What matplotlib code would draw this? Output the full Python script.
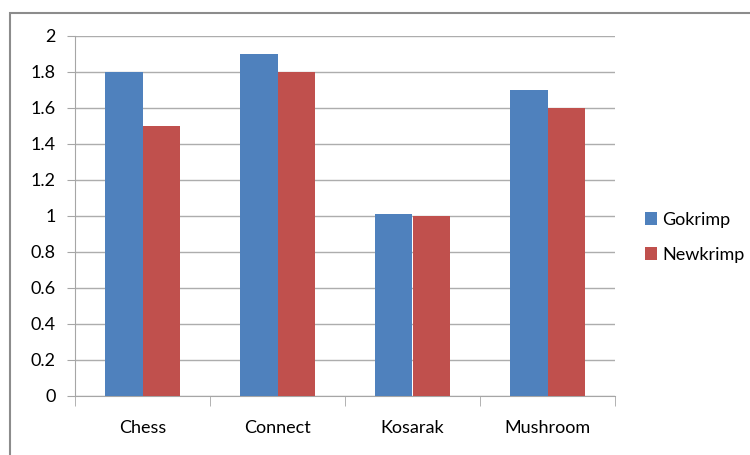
import matplotlib
matplotlib.use('Agg')
import matplotlib.pyplot as plt
import numpy as np
from matplotlib.patches import Rectangle

plt.rcParams['font.family'] = ['Lato', 'DejaVu Sans']

categories = ['Chess', 'Connect', 'Kosarak', 'Mushroom']
gokrimp = [1.8, 1.9, 1.01, 1.7]
newkrimp = [1.5, 1.8, 1.0, 1.6]
yticks = [0, 0.2, 0.4, 0.6, 0.8, 1, 1.2, 1.4, 1.6, 1.8, 2]

fig = plt.figure(figsize=(7.5, 4.55), dpi=100)
# outer chart border (right and bottom edges fall outside the image)
fig.patches.append(Rectangle((9.5 / 750, -0.05), 1.0, 1 - 13 / 455 + 0.05,
                             transform=fig.transFigure, fill=False,
                             edgecolor='#8C8C8C', linewidth=1.5))

ax = fig.add_axes([0.1, 0.1297, 0.72, 0.7912])
x = np.arange(len(categories))
w = 0.28
ax.bar(x - w / 2, gokrimp, w, color='#4F81BD', label='Gokrimp', zorder=3)
ax.bar(x + w / 2, newkrimp, w, color='#C0504D', label='Newkrimp', zorder=3)

ax.set_xlim(-0.5, len(categories) - 0.5)
ax.set_ylim(0, 2)
ax.set_yticks(yticks)
ax.set_yticklabels([('%g' % v) for v in yticks], fontsize=13)
ax.yaxis.grid(True, color='#ADADAD', linewidth=1, zorder=0)
ax.set_xticks(x)
ax.set_xticklabels(categories, fontsize=13)
ax.tick_params(axis='x', length=0, pad=17)
ax.set_xticks(np.arange(-0.5, len(categories)), minor=True)
ax.tick_params(axis='x', which='minor', length=7, color='#A6A6A6')
ax.tick_params(axis='y', length=6, color='#A6A6A6', pad=8)
for s in ['top', 'right']:
    ax.spines[s].set_visible(False)
for s in ['left', 'bottom']:
    ax.spines[s].set_color('#A6A6A6')

ax.legend(loc='center left', bbox_to_anchor=(1.025, 0.44), frameon=False,
          fontsize=13, handlelength=0.7, handleheight=0.7, handletextpad=0.25,
          labelspacing=1.05)

fig.savefig('out.png', dpi=100)
